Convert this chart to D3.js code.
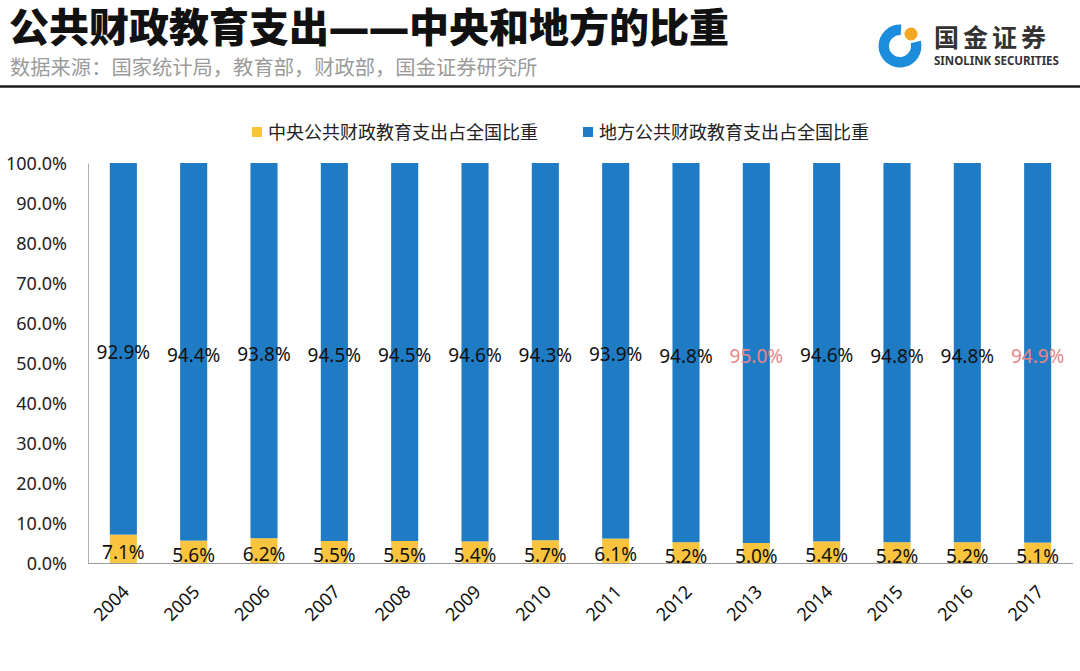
<!DOCTYPE html>
<html><head><meta charset="utf-8">
<script src="https://cdn.jsdelivr.net/npm/d3@7/dist/d3.min.js"></script>
<style>
html,body{margin:0;padding:0;background:#fff;}
svg{display:block;}
text{font-family:"Noto Sans","Noto Sans CJK SC",sans-serif;}
</style></head>
<body>
<svg id="c" width="1080" height="671"></svg>
<script>
const years = ["2004","2005","2006","2007","2008","2009","2010","2011","2012","2013","2014","2015","2016","2017"];
const central = [7.1,5.6,6.2,5.5,5.5,5.4,5.7,6.1,5.2,5.0,5.4,5.2,5.2,5.1];
const local = [92.9,94.4,93.8,94.5,94.5,94.6,94.3,93.9,94.8,95.0,94.6,94.8,94.8,94.9];
const highlightYears = ["2013","2017"];
const yTicks = [0,10,20,30,40,50,60,70,80,90,100];
const seriesNames = ["中央公共财政教育支出占全国比重","地方公共财政教育支出占全国比重"];
const titleText = "公共财政教育支出——中央和地方的比重";
const sourceText = "数据来源：国家统计局，教育部，财政部，国金证券研究所";

const colors = {central:"#fac43f", local:"#1f7cc4"};
const svg = d3.select("#c");

// header
svg.append("text").attr("x",9).attr("y",42).attr("font-size",40).attr("font-weight",900)
  .attr("font-family","'Noto Sans CJK SC',sans-serif").attr("fill","#111").text(titleText);
svg.append("text").attr("x",10).attr("y",75).attr("font-size",20.3)
  .attr("font-family","'Noto Sans CJK SC',sans-serif").attr("fill","#9b9b9b").text(sourceText);
svg.append("line").attr("x1",0).attr("x2",1080).attr("y1",86.5).attr("y2",86.5)
  .attr("stroke","#1a1a1a").attr("stroke-width",2.5);

// logo
const lg = svg.append("g").attr("transform","translate(900,46)");
const arc = d3.arc().innerRadius(11).outerRadius(21.5).startAngle(Math.PI*0.42).endAngle(Math.PI*2.02);
lg.append("path").attr("d",arc()).attr("fill","#1c8ddb");
lg.append("circle").attr("cx",11).attr("cy",-12).attr("r",6.5).attr("fill","#f5a623");
lg.append("text").attr("x",34).attr("y",1).attr("font-size",25).attr("font-weight",700)
  .attr("font-family","'Noto Sans CJK SC',sans-serif").attr("fill","#333")
  .attr("textLength",112).attr("lengthAdjust","spacing").text("国金证券");
lg.append("text").attr("x",34).attr("y",19).attr("font-size",11.5).attr("font-weight",700)
  .attr("font-family","'Open Sans',sans-serif").attr("fill","#333").text("SINOLINK SECURITIES");

// scales
const x = d3.scaleBand().domain(years).range([88,1073]).paddingInner(0.615).paddingOuter(0.31);
const y = d3.scaleLinear().domain([0,100]).range([563,163]);

// axes
const yAxis = d3.axisLeft(y).tickValues(yTicks).tickSize(0).tickPadding(21)
  .tickFormat(d=>d.toFixed(1)+"%");
const gy = svg.append("g").attr("transform","translate(88,0)").call(yAxis);
gy.select(".domain").attr("stroke","#b0b0b0");
gy.selectAll("text").attr("font-size",18).attr("fill","#222").attr("dy","0.35em");

// bars
const data = years.map((yr,i)=>({yr, c:central[i], l:local[i]}));
svg.append("g").selectAll("rect").data(data).join("rect")
  .attr("x",d=>x(d.yr)).attr("width",x.bandwidth())
  .attr("y",d=>y(d.c)).attr("height",d=>y(0)-y(d.c)).attr("fill",colors.central);
svg.append("g").selectAll("rect").data(data).join("rect")
  .attr("x",d=>x(d.yr)).attr("width",x.bandwidth())
  .attr("y",d=>y(d.c+d.l)).attr("height",d=>y(d.c)-y(d.c+d.l)).attr("fill",colors.local);

const xAxis = d3.axisBottom(x).tickSize(0).tickPadding(0);
const gx = svg.append("g").attr("transform","translate(0,563)").call(xAxis);
gx.select(".domain").attr("stroke","#9a9a9a").attr("d","M88,0.5H1073");
gx.selectAll("text").attr("font-size",18).attr("fill","#111")
  .attr("text-anchor","end").attr("dy",0).attr("dx",0)
  .attr("transform","translate(7,30) rotate(-45)");

// labels
svg.append("g").selectAll("text").data(data).join("text")
  .attr("x",d=>x(d.yr)+x.bandwidth()/2).attr("y",d=>y(d.c/2)+3)
  .attr("text-anchor","middle").attr("dominant-baseline","central")
  .attr("font-size",19).attr("fill","#111").text(d=>d.c.toFixed(1)+"%");
svg.append("g").selectAll("text").data(data).join("text")
  .attr("x",d=>x(d.yr)+x.bandwidth()/2).attr("y",d=>y(d.c+d.l/2)+3)
  .attr("text-anchor","middle").attr("dominant-baseline","central")
  .attr("font-size",19).attr("fill",d=>highlightYears.includes(d.yr)?"#e8868a":"#111")
  .text(d=>d.l.toFixed(1)+"%");

// legend
const leg = svg.append("g");
[[252,colors.central,seriesNames[0]],[583,colors.local,seriesNames[1]]].forEach(([lx,col,name])=>{
  leg.append("rect").attr("x",lx).attr("y",127).attr("width",10).attr("height",10).attr("fill",col);
  leg.append("text").attr("x",lx+16).attr("y",132).attr("dominant-baseline","central")
    .attr("font-size",18).attr("font-family","'Noto Sans CJK SC',sans-serif").attr("fill","#222").text(name);
});
</script>
</body></html>
